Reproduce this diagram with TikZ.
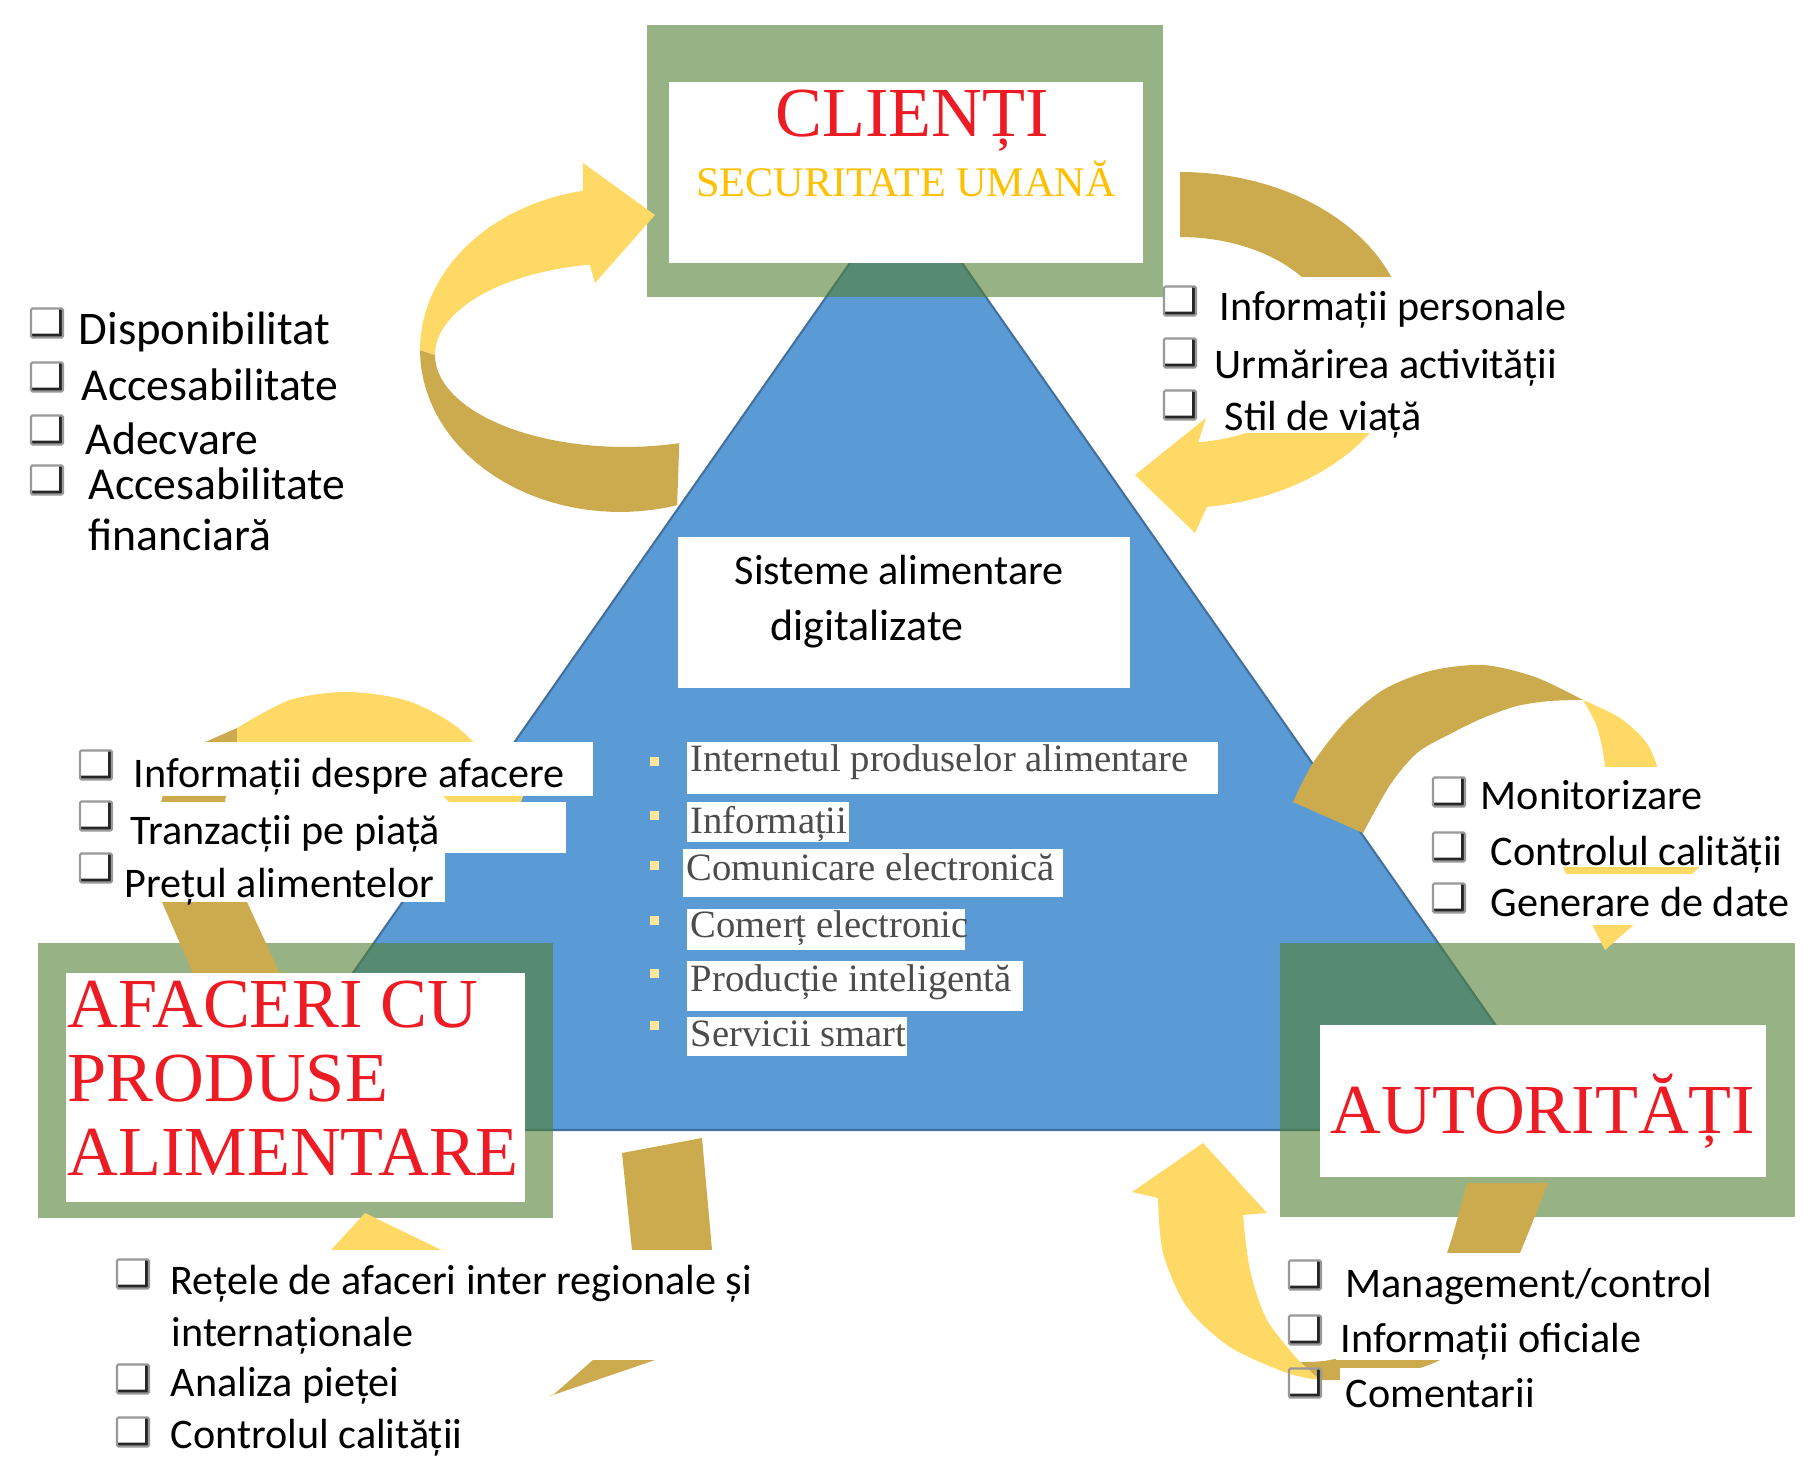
\documentclass[tikz,border=0pt]{standalone}
\usepackage{fontspec}
\setmainfont{Carlito}
\newfontfamily\serifrm{Liberation Serif}

\definecolor{triblue}{RGB}{91,155,213}
\definecolor{triedge}{RGB}{65,113,156}
\definecolor{boxgreen}{RGB}{83,127,50}
\definecolor{arrgold}{RGB}{204,171,78}
\definecolor{arryellow}{RGB}{255,217,102}
\definecolor{titlered}{RGB}{237,28,36}
\definecolor{subyellow}{RGB}{255,192,0}
\definecolor{dotyellow}{RGB}{255,230,153}

\begin{document}
\begin{tikzpicture}[x=0.1mm, y=-0.1mm,
        bigtitle/.style={font=\serifrm\fontsize{20}{22}\selectfont, text=titlered, inner sep=0pt},
        listitem/.style={font=\fontsize{12}{14}\selectfont, anchor=base west, inner sep=0pt},
        inneritem/.style={font=\serifrm\fontsize{11}{13}\selectfont, text=black!70, anchor=base west, inner sep=0pt},
        chkbox/.style={draw=black!40, line width=0.6pt, rounded corners=0.4pt, minimum width=3.2mm, minimum height=2.9mm, inner sep=0pt,
            path picture={\draw[black!85, line width=2.2pt] (path picture bounding box.south west) -- (path picture bounding box.south east) -- (path picture bounding box.north east);}},
        bulletdot/.style={fill=dotyellow, minimum size=0.9mm, inner sep=0pt},
        greenframe/.style={fill=boxgreen, fill opacity=0.6},
        cover/.style={fill=white},
        goldband/.style={fill=arrgold},
        yellowband/.style={fill=arryellow}]

        \fill[white] (0,0) rectangle (1816,1457);
        \useasboundingbox (0,0) rectangle (1816,1457);

        % triangle and the three frames
        \filldraw[fill=triblue, draw=triedge, line width=0.6pt] (906,183) -- (1569,1130) -- (243,1130) -- cycle;
        \fill[greenframe] (647,25) rectangle (1163,297);
        \fill[greenframe] (38,943) rectangle (553,1218);
        \fill[greenframe] (1280,943) rectangle (1795,1217);

        % top left arrow
        \fill[goldband] plot[domain=73.4:180, samples=30, variable=\t] ({620+200*cos(\t)}, {350+162*sin(\t)})
            -- plot[domain=180:73.4, samples=30, variable=\t] ({625+190*cos(\t)}, {355+92*sin(\t)}) -- cycle;
        \fill[yellowband] plot[domain=180:259.3, samples=30, variable=\t] ({620+200*cos(\t)}, {350+162*sin(\t)})
            -- (583,163) -- (655,215) -- (595,283)
            -- plot[domain=259.3:180, samples=30, variable=\t] ({625+190*cos(\t)}, {355+92*sin(\t)}) -- cycle;

        % top right arrow
        \fill[goldband] plot[domain=270:360, samples=30, variable=\t] ({1180+228*cos(\t)}, {340+168*sin(\t)})
            -- plot[domain=360:270, samples=30, variable=\t] ({1180+154*cos(\t)}, {340+103*sin(\t)}) -- cycle;
        \fill[yellowband] plot[domain=0:83.2, samples=30, variable=\t] ({1180+228*cos(\t)}, {340+168*sin(\t)})
            -- (1195,533) -- (1135,475) -- (1206,418)
            -- plot[domain=83.2:0, samples=30, variable=\t] ({1180+154*cos(\t)}, {340+103*sin(\t)}) -- cycle;

        % right arrow
        \fill[goldband] plot[smooth] coordinates {(1293,802) (1313,763) (1345,722) (1383,690) (1430,671) (1483,665) (1535,677) (1583,700)}
            -- plot[smooth] coordinates {(1583,700) (1550,701) (1517,706) (1483,718) (1450,734) (1417,753) (1390,785) (1363,833)} -- cycle;
        \fill[yellowband] plot[smooth] coordinates {(1583,700) (1620,718) (1648,745) (1662,785) (1665,835)}
            -- (1710,858) -- (1605,950) -- (1550,842)
            -- plot[smooth] coordinates {(1597,835) (1603,810) (1605,767) (1597,727) (1583,700)} -- cycle;

        % bottom right arrow
        \fill[goldband] plot[smooth] coordinates {(1467,1183) (1447,1253) (1420,1310) (1380,1345) (1330,1360) (1300,1362)}
            -- plot[smooth] coordinates {(1320,1380) (1380,1378) (1440,1360) (1490,1320) (1520,1253) (1548,1183)} -- cycle;
        \fill[yellowband] plot[smooth] coordinates {(1320,1380) (1287,1373) (1230,1347) (1187,1307) (1163,1253) (1158,1198)}
            -- (1132,1192) -- (1203,1143) -- (1267,1213)
            -- plot[smooth] coordinates {(1243,1215) (1250,1270) (1267,1320) (1300,1362)} -- cycle;

        % bottom arrow
        \fill[goldband] (622,1153) -- (702,1138) -- (712,1250) -- (697,1318) -- (655,1360) -- (553,1395)
            -- (593,1360) -- (620,1312) -- (632,1250) -- cycle;
        \fill[yellowband] (553,1395) -- (495,1425) -- (420,1425) -- (380,1385) -- (365,1320) -- (360,1262)
            -- (320,1262) -- (365,1213) -- (458,1258) -- (425,1262) -- (430,1320) -- (450,1365) -- (500,1392) -- cycle;

        % left arrow
        \fill[goldband] (195,978) -- (162,902) -- (156,820) -- (170,770) -- (203,743) -- (237,728)
            -- (238,760) -- (225,800) -- (247,902) -- (282,978) -- cycle;
        \fill[yellowband] plot[smooth] coordinates {(237,728) (290,700) (347,692) (405,700) (450,722) (480,750) (498,790)}
            -- (525,790) -- (505,850) -- (430,808)
            -- plot[smooth] coordinates {(452,805) (430,785) (395,768) (340,762) (285,768) (238,760)} -- cycle;

        % title boxes
        \fill[cover] (669,82) rectangle (1143,263);
        \fill[cover] (66,973) rectangle (525,1202);
        \fill[cover] (1320,1025) rectangle (1766,1177);
        \node[bigtitle, anchor=base] (clienti) at (912,137) {CLIENȚI};
        \node[anchor=base, inner sep=0pt, font=\serifrm\fontsize{12}{14}\selectfont, text=subyellow] (secur) at (906,197) {SECURITATE UMANĂ};
        \node[bigtitle, anchor=base west] (afac1) at (67,1027) {AFACERI CU};
        \node[bigtitle, anchor=base west] (afac2) at (67,1101) {PRODUSE};
        \node[bigtitle, anchor=base west] (afac3) at (67,1175) {ALIMENTARE};
        \node[bigtitle, anchor=base] (autor) at (1543,1133) {AUTORITĂȚI};

        % centre of the triangle
        \fill[cover] (678,537) rectangle (1130,688);
        \node[anchor=base west, inner sep=0pt, font=\fontsize{12}{14}\selectfont] (sys1) at (734,585) {Sisteme alimentare};
        \node[anchor=base west, inner sep=0pt, font=\fontsize{12.5}{14}\selectfont] (sys2) at (770,641) {digitalizate};

        \fill[cover] (687,742) rectangle (1218,794);
        \fill[cover] (687,802) rectangle (849,842);
        \fill[cover] (683,849) rectangle (1063,897);
        \fill[cover] (687,909) rectangle (965,950);
        \fill[cover] (687,961) rectangle (1023,1011);
        \fill[cover] (687,1017) rectangle (907,1056);
        \node[bulletdot] (d1) at (654,762) {};
        \node[bulletdot] (d2) at (654,816) {};
        \node[bulletdot] (d3) at (654,866) {};
        \node[bulletdot] (d4) at (654,921) {};
        \node[bulletdot] (d5) at (654,973) {};
        \node[bulletdot] (d6) at (654,1025) {};
        \node[inneritem] (in1) at (690,772) {Internetul produselor alimentare};
        \node[inneritem] (in2) at (690,834) {Informații};
        \node[inneritem] (in3) at (686,880) {Comunicare electronică};
        \node[inneritem] (in4) at (690,938) {Comerț electronic};
        \node[inneritem] (in5) at (690,991) {Producție inteligentă};
        \node[inneritem] (in6) at (690,1046) {Servicii smart};

        % top left list
        \node[chkbox] (c11) at (47,323) {};
        \node[chkbox] (c12) at (47,377) {};
        \node[chkbox] (c13) at (47,430) {};
        \node[chkbox] (c14) at (47,480) {};
        \node[listitem, font=\fontsize{13.3}{15}\selectfont] (t11) at (78,345) {Disponibilitat};
        \node[listitem, font=\fontsize{13}{15}\selectfont] (t12) at (81,401) {Accesabilitate};
        \node[listitem, font=\fontsize{13}{15}\selectfont] (t13) at (85,455) {Adecvare};
        \node[listitem, font=\fontsize{13}{15}\selectfont] (t14) at (88,500) {Accesabilitate};
        \node[listitem, font=\fontsize{13}{15}\selectfont] (t15) at (88,551) {financiară};

        % top right list
        \fill[cover] (1215,277) rectangle (1580,334);
        \fill[cover] (1210,334) rectangle (1578,390);
        \fill[cover] (1218,388) rectangle (1442,433);
        \node[chkbox] (c21) at (1180,301) {};
        \node[chkbox] (c22) at (1180,353) {};
        \node[chkbox] (c23) at (1180,405) {};
        \node[listitem] (t21) at (1219,321) {Informații personale};
        \node[listitem] (t22) at (1214,379) {Urmărirea activității};
        \node[listitem] (t23) at (1224,431) {Stil de viață};

        % right list
        \fill[cover] (1476,767) rectangle (1718,822);
        \fill[cover] (1486,822) rectangle (1812,867);
        \fill[cover] (1486,874) rectangle (1785,925);
        \node[chkbox] (c31) at (1449,792) {};
        \node[chkbox] (c32) at (1449,847) {};
        \node[chkbox] (c33) at (1449,898) {};
        \node[listitem] (t31) at (1480,810) {Monitorizare};
        \node[listitem] (t32) at (1490,865) {Controlul calității};
        \node[listitem] (t33) at (1490,917) {Generare de date};

        % left list
        \fill[cover] (125,742) rectangle (593,796);
        \fill[cover] (122,802) rectangle (566,853);
        \fill[cover] (118,853) rectangle (445,902);
        \node[chkbox] (c41) at (96,765) {};
        \node[chkbox] (c42) at (96,816) {};
        \node[chkbox] (c43) at (96,868) {};
        \node[listitem] (t41) at (133,788) {Informații despre afacere};
        \node[listitem] (t42) at (130,845) {Tranzacții pe piață};
        \node[listitem] (t43) at (124,897) {Prețul alimentelor};

        % bottom right list
        \fill[cover] (1340,1253) rectangle (1715,1306);
        \fill[cover] (1336,1306) rectangle (1656,1360);
        \fill[cover] (1340,1368) rectangle (1540,1420);
        \node[chkbox] (c51) at (1305,1275) {};
        \node[chkbox] (c52) at (1305,1330) {};
        \node[chkbox] (c53) at (1305,1383) {};
        \node[listitem] (t51) at (1345,1297) {Management/control};
        \node[listitem] (t52) at (1340,1352) {Informații oficiale};
        \node[listitem] (t53) at (1345,1407) {Comentarii};

        % bottom left list
        \fill[cover] (165,1250) rectangle (770,1305);
        \fill[cover] (165,1305) rectangle (770,1360);
        \fill[cover] (165,1360) rectangle (550,1409);
        \fill[cover] (165,1409) rectangle (550,1457);
        \node[chkbox] (c61) at (133,1274) {};
        \node[chkbox] (c62) at (133,1379) {};
        \node[chkbox] (c63) at (133,1432) {};
        \node[listitem] (t61) at (170,1294) {Rețele de afaceri inter regionale și};
        \node[listitem] (t62) at (171,1346) {internaționale};
        \node[listitem] (t63) at (170,1396) {Analiza pieței};
        \node[listitem] (t64) at (170,1448) {Controlul calității};
\end{tikzpicture}
\end{document}
